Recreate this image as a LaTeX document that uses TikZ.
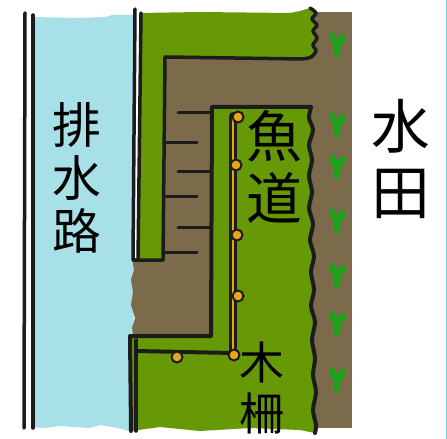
\documentclass[tikz,border=0pt]{standalone}
\usepackage{fontspec}
\newfontfamily\jpfont{Noto Sans CJK JP}
\definecolor{water}{RGB}{168,224,231}
\definecolor{grass}{RGB}{103,153,6}
\definecolor{soil}{RGB}{124,107,74}
\definecolor{rice}{RGB}{30,160,26}
\definecolor{timber}{RGB}{232,164,26}
\definecolor{ink}{RGB}{28,28,28}
\definecolor{rim}{RGB}{120,205,210}
\begin{document}
\begin{tikzpicture}[x=1bp,y=-1bp,
  wall/.style={draw=ink,line width=3.5bp,line cap=round,line join=round},
  edge/.style={draw=ink,line width=4bp,line cap=round,line join=round},
  stepline/.style={draw=ink,line width=3bp,line cap=round},
  post/.style={circle,fill=timber,draw=ink,line width=2bp,minimum size=11bp,inner sep=0pt},
  sprout/.style={draw=rice,line width=6.5bp,line cap=round,line join=round},
  label/.style={align=center,inner sep=0pt,text=black}
]
\useasboundingbox (0,0) rectangle (447,439);
\fill[white] (0,0) rectangle (447,439);

% water in the drainage channel
\fill[water] (33,17) -- (80,18) -- (105,17) -- (112,15) -- (134,15) -- (134,262)
  -- (133,432) -- (118,428) -- (100,425) -- (90,428) -- (60,426) -- (45,428) -- (33,427) -- cycle;

% soil strip beside the paddy
\fill[soil] (313,12) rectangle (352,428);
% soil between the bank and the fishway
\fill[soil] (150,50) -- (316,50) -- (316,340) -- (134,340) -- (132,328) -- (135,318) -- (131,305)
  -- (133,292) -- (131,280) -- (134,270) -- (132,258) -- (150,258) -- cycle;

% upper bank
\fill[grass] (140,13) -- (200,12) -- (290,13) -- (300,11) --
  plot[smooth] coordinates {(310,8) (316,13) (312,19) (317,25) (313,31) (317,38) (313,45) (316,51) (311,57) (303,59)}
  -- (165,57) -- (164,260) -- (138,260) -- cycle;

% fishway
\fill[grass] (212,107) --
  plot[smooth] coordinates {(311,107) (309,118) (313,130) (309,145) (312,160) (309,176) (312,192) (309,208)
    (313,224) (310,240) (314,256) (311,272) (314,290) (311,306) (315,322) (312,340) (315,358) (313,375)
    (316,392) (313,410) (316,425) (315,433)}
  -- (300,430) -- (250,428) -- (200,431) -- (160,427) -- (131,431) -- (131,336) -- (211,336) -- cycle;

% channel walls
\draw[wall] (25,13) -- (24,428);
\draw[wall] (33,15) -- (33,428);
\draw[wall] (135,9) -- (133,260);
\draw[wall] (141,13) -- (138,260);
\draw[wall] (133,260) -- (163,260) -- (165,57) -- (303,59);
\draw[wall] plot[smooth] coordinates {(310,8) (316,13) (312,19) (317,25) (313,31) (317,38) (313,45) (316,51) (311,57) (303,59)};

% fishway outline
\draw[edge] (131,431) -- (130,336) -- (211,336) -- (212,107) -- (311,107);
\draw[wall] (136,340) -- (136,431);
\draw[edge] plot[smooth] coordinates {(311,107) (309,118) (313,130) (309,145) (312,160) (309,176) (312,192) (309,208)
    (313,224) (310,240) (314,256) (311,272) (314,290) (311,306) (315,322) (312,340) (315,358) (313,375)
    (316,392) (313,410) (316,425) (315,433)};

% steps of the fishway
\foreach \y in {113,172,227} \draw[stepline] (178,\y) -- (211,\y);
\foreach \y in {143,197,252} \draw[stepline] (164,\y) -- (197,\y);

% timber fence
\draw[ink,line width=4bp,line cap=round] (136,351) -- (233,353);
\draw[ink,line width=8bp,line cap=round] (233,116) -- (233,354);
\draw[timber,line width=1.8bp] (233,118) -- (233,350);
\foreach \p/\q [count=\i] in {238/117,236/165,237/235,238/296,234/355,177/357}
  \node[post] (post\i) at (\p,\q) {};

% rice seedlings
\foreach \y in {45,125,167,221,276,324,380} {
  \draw[sprout] (332,\y-9) -- (337,\y+1) -- (337,\y+9);
  \draw[sprout] (343,\y-8) -- (337,\y+1);
}

% right border
\draw[rim,line width=1bp] (446.5,0) -- (446.5,439);

% labels
\node[label,font=\jpfont\fontsize{49}{53}\selectfont] (drain) at (77,178) {排\\水\\路};
\node[label,font=\jpfont\fontsize{56}{62}\selectfont] (fishway) at (274,167) {魚\\道};
\node[label,font=\jpfont\fontsize{59}{66}\selectfont] (paddy) at (401,159) {水\\田};
\node[label,font=\jpfont\fontsize{45}{51}\selectfont] (fence) at (262,388) {木\\柵};
\end{tikzpicture}
\end{document}
